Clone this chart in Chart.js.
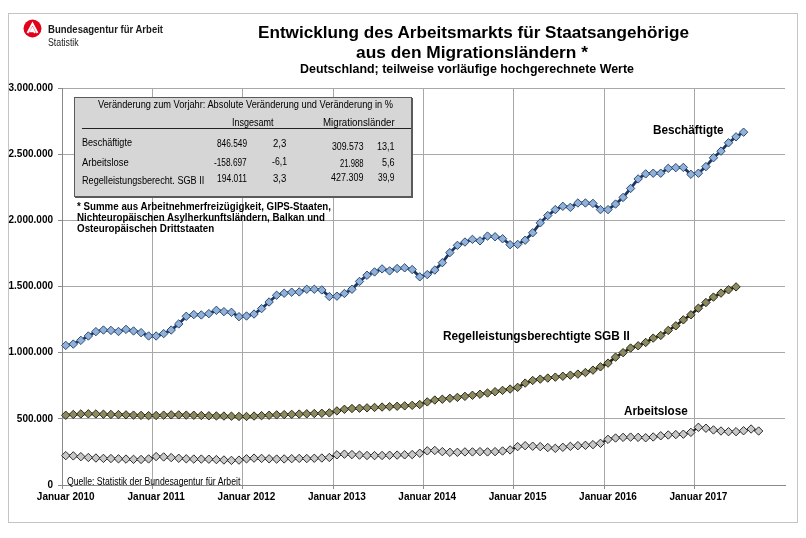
<!DOCTYPE html>
<html><head><meta charset="utf-8">
<script src="https://cdn.jsdelivr.net/npm/chart.js@4.4.1/dist/chart.umd.min.js"></script>
<style>
html,body{margin:0;padding:0;background:#fff;}
#wrap{position:relative;width:806px;height:538px;overflow:hidden;font-family:"Liberation Sans",Arial,sans-serif;}
#c{position:absolute;left:0;top:0;}
.t{position:absolute;white-space:nowrap;color:#000;transform-origin:0 50%;}
#frame{position:absolute;left:8px;top:13px;width:788px;height:508px;border:1px solid #c4c4c4;}
#box{position:absolute;left:74px;top:97px;width:336px;height:98px;background:#d6d6d6;border:1px solid #5a5a5a;box-shadow:1px 1px 0 #5a5a5a;}
#rule{position:absolute;left:82px;top:128px;width:329px;height:1px;background:#222;}
</style></head><body>
<div id="wrap">
<div id="frame"></div>
<canvas id="c" width="806" height="538"></canvas>
<div id="box"></div><div id="rule"></div>
<svg style="position:absolute;left:23px;top:19px" width="20" height="20" viewBox="0 0 20 20">
<circle cx="9.5" cy="9.5" r="9" fill="#e3001b"/>
<path d="M4.5 14 L9.5 4.5 L14.5 14 M12 14 L9.5 9.3 L7.8 12.4 L10.5 12.4" fill="none" stroke="#fff" stroke-width="1.9" stroke-linejoin="miter"/>
</svg>
</div>
<script>
const monthNames = ['Januar','Februar','März','April','Mai','Juni','Juli','August','September','Oktober','November','Dezember'];
const years = [2010,2011,2012,2013,2014,2015,2016,2017];
const categories = years.flatMap(y => monthNames.map(m => m + ' ' + y));

const beschaeftigte = [
 1055000,1065000,1093000,1126000,1159000,1171000,1168000,1160000,1176000,1164000,1151000,1126000,
 1126000,1144000,1171000,1217000,1275000,1288000,1285000,1295000,1320000,1310000,1305000,1272000,
 1277000,1292000,1333000,1383000,1434000,1449000,1457000,1459000,1479000,1479000,1474000,1424000,
 1427000,1447000,1479000,1538000,1585000,1610000,1633000,1618000,1636000,1641000,1628000,1573000,
 1590000,1624000,1680000,1756000,1811000,1836000,1856000,1845000,1881000,1876000,1861000,1816000,
 1818000,1850000,1906000,1981000,2036000,2081000,2106000,2098000,2131000,2131000,2128000,2081000,
 2081000,2123000,2173000,2241000,2313000,2351000,2356000,2356000,2393000,2398000,2400000,2348000,
 2356000,2406000,2473000,2523000,2586000,2631000,2666000];

const sgb2 = [
 527000,533000,537000,538000,537000,535000,533000,532000,530000,528000,526000,524000,
 525000,528000,530000,530000,528000,527000,525000,523000,522000,521000,520000,518000,
 518000,521000,524000,527000,530000,532000,534000,536000,538000,540000,542000,545000,
 560000,572000,578000,580000,583000,586000,589000,592000,595000,598000,602000,608000,
 628000,642000,648000,655000,662000,670000,678000,686000,695000,705000,715000,725000,
 738000,770000,790000,800000,808000,815000,822000,830000,838000,850000,868000,893000,
 921000,966000,1000000,1035000,1052000,1077000,1110000,1130000,1168000,1203000,1248000,1286000,
 1336000,1379000,1420000,1450000,1475000,1497000];

const arbeitslose = [
 222000,220000,214000,208000,204000,201000,200000,198000,196000,194000,193000,197000,
 215000,212000,207000,202000,198000,196000,196000,195000,192000,189000,186000,188000,
 198000,203000,201000,198000,196000,197000,199000,201000,200000,202000,204000,208000,
 228000,233000,230000,226000,223000,222000,223000,225000,226000,228000,230000,240000,
 258000,261000,252000,247000,247000,250000,250000,252000,250000,252000,257000,265000,
 290000,297000,293000,290000,283000,277000,285000,292000,297000,300000,305000,315000,
 345000,355000,360000,362000,360000,357000,363000,372000,378000,381000,384000,398000,
 436000,429000,416000,408000,403000,403000,410000,423000,408000];

const yTicks = [0,500000,1000000,1500000,2000000,2500000,3000000];

const tableHead = ['Insgesamt','Migrationsländer'];
const tableRows = ['Beschäftigte','Arbeitslose','Regelleistungsberecht. SGB II'];
const tableValues = [
 ['846.549','2,3','309.573','13,1'],
 ['-158.697','-6,1','21.988','5,6'],
 ['194.011','3,3','427.309','39,9']];

const FONT = '"Liberation Sans", Arial, sans-serif';
const fmt = v => String(v).replace(/\B(?=(\d{3})+(?!\d))/g, '.');

new Chart(document.getElementById('c'), {
  type: 'line',
  data: {
    labels: categories,
    datasets: [
      {label:'Beschäftigte', data: beschaeftigte, borderColor:'#1c3660', borderWidth:2.8,
       pointStyle:'rectRot', pointRadius:4.2, pointBackgroundColor:'#92b1d8', pointBorderColor:'#2a4a75', pointBorderWidth:1},
      {label:'Regelleistungsberechtigte SGB II', data: sgb2, borderColor:'#25241a', borderWidth:2.6,
       pointStyle:'rectRot', pointRadius:4.2, pointBackgroundColor:'#8c8a5e', pointBorderColor:'#2a2a1c', pointBorderWidth:1},
      {label:'Arbeitslose', data: arbeitslose, borderColor:'#1e1e1e', borderWidth:2.2,
       pointStyle:'rectRot', pointRadius:4.2, pointBackgroundColor:'#c8c8c8', pointBorderColor:'#2a2a2a', pointBorderWidth:1}
    ]
  },
  options: {
    responsive:false, animation:false, devicePixelRatio:1,
    layout:{padding:{left:0,right:21,top:88,bottom:0}},
    plugins:{legend:{display:false}, tooltip:{enabled:false}},
    elements:{line:{tension:0}},
    scales:{
      x:{
        type:'category', offset:true,
        grid:{offset:true, tickLength:4, drawTicks:true,
              color: ctx => (ctx.index % 12 === 0) ? '#a8a8a8' : 'rgba(0,0,0,0)',
              tickColor: ctx => (ctx.index % 12 === 0) ? '#8a8a8a' : 'rgba(0,0,0,0)'},
        border:{color:'#8a8a8a'},
        ticks:{autoSkip:false, maxRotation:0, minRotation:0, padding:2, color:'#000',
               font:{family:FONT, size:10, weight:'bold'},
               callback:(v,i) => (i % 12 === 0) ? categories[i] : ''},
        afterFit: s => { s.height = 53; }
      },
      y:{
        min:0, max:3000000,
        afterBuildTicks: s => { s.ticks = yTicks.map(v => ({value:v})); },
        grid:{color:'#a8a8a8', tickLength:4, tickColor:'#8a8a8a'},
        border:{color:'#8a8a8a'},
        ticks:{padding:5, color:'#000', font:{family:FONT, size:10, weight:'bold'}, callback: v => fmt(v)},
        afterFit: s => { s.width = 62; }
      }
    }
  }
});

const wrap = document.getElementById('wrap');
function T(txt, x, y, size, weight, align, w, color){
  const d = document.createElement('div');
  d.className = 't'; d.textContent = txt;
  d.style.font = weight + ' ' + size + 'px ' + FONT;
  d.style.lineHeight = size + 'px';
  if (color) d.style.color = color;
  wrap.appendChild(d);
  const nat = d.getBoundingClientRect().width;
  const s = w ? w / nat : 1;
  const width = nat * s;
  const left = align === 'left' ? x : (align === 'right' ? x - width : x - width / 2);
  d.style.left = left + 'px';
  d.style.top = (y - size / 2) + 'px';
  if (w) d.style.transform = 'scaleX(' + s + ')';
}
// header / logo
T('Bundesagentur für Arbeit', 48.3, 29, 11, 'bold', 'left', 115, '#1a1a1a');
T('Statistik', 48.3, 42.5, 10, 'normal', 'left', 30.7, '#1a1a1a');
T('Entwicklung des Arbeitsmarkts für Staatsangehörige', 258, 32, 17, 'bold', 'left', 431);
T('aus den Migrationsländern *', 356, 52, 17, 'bold', 'left', 232);
T('Deutschland; teilweise vorläufige hochgerechnete Werte', 300, 69, 12, 'bold', 'left', 334);
// table
const TS = 10;
T('Veränderung zum Vorjahr: Absolute Veränderung und Veränderung in %', 98.3, 105, TS, 'normal', 'left', 295);
T(tableHead[0], 231.7, 123, TS, 'normal', 'left', 41.6);
T(tableHead[1], 323.3, 123, TS, 'normal', 'left', 71.7);
const rowY = [[143.3,144.3,143.8,147.3,146.7],[163.3,163.3,162,164,162.8],[180.7,179.3,179.3,178.3,178.3]];
const rowW = [[50,30,13.3,31.6,17.6],[46.7,32.7,15,23.4,12.6],[122.3,30,13.3,32.4,16.3]];
const colR = [246.7,286.7,363.3,394.3];
tableRows.forEach((r,i) => {
  T(r, 81.7, rowY[i][0], TS, 'normal', 'left', rowW[i][0]);
  tableValues[i].forEach((v,j) => T(v, colR[j], rowY[i][j+1], TS, 'normal', 'right', rowW[i][j+1]));
});
// footnote
T('* Summe aus Arbeitnehmerfreizügigkeit, GIPS-Staaten,', 76.7, 206.7, 11, 'bold', 'left', 254);
T('Nichteuropäischen Asylherkunftsländern, Balkan und', 76.7, 217.7, 11, 'bold', 'left', 248);
T('Osteuropäischen Drittstaaten', 76.7, 228.3, 11, 'bold', 'left', 137.3);
// series labels
T('Beschäftigte', 652.7, 130, 12, 'bold', 'left', 70.6);
T('Regelleistungsberechtigte SGB II', 443.3, 335.7, 12, 'bold', 'left', 186.7);
T('Arbeitslose', 624, 410.7, 12, 'bold', 'left', 63.7);
T('Quelle: Statistik der Bundesagentur für Arbeit', 66.7, 481.7, 10, 'normal', 'left', 173.3);
</script>
</body></html>
